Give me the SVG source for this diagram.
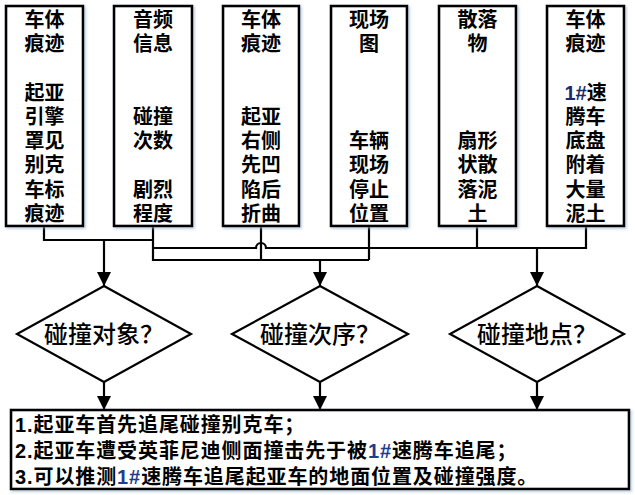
<svg xmlns="http://www.w3.org/2000/svg" width="635" height="495" viewBox="0 0 635 495" lang="zh-CN">
<defs>
<style>
.box{fill:#fff;stroke:#000;stroke-width:2.6;filter:url(#sh)}
.dia{fill:#fff;stroke:#000;stroke-width:2.2}
.ln{fill:none;stroke:#000;stroke-width:2.2}
.bt{font-family:"Liberation Sans","Noto Sans CJK SC",sans-serif;font-weight:bold;font-size:20px;fill:#000;text-anchor:middle}
.dt{font-family:"Liberation Sans","Noto Sans CJK SC",sans-serif;font-weight:500;font-size:24px;fill:#000;text-anchor:middle}
.rt{font-family:"Liberation Sans","Noto Sans CJK SC",sans-serif;font-weight:bold;font-size:20px;fill:#000;letter-spacing:0.9px}
.num{fill:#1f3c8f}
</style>
<filter id="sh" x="-10%" y="-10%" width="130%" height="130%">
<feDropShadow dx="1.5" dy="1.5" stdDeviation="1.2" flood-color="#8fa8c8" flood-opacity="0.6"/>
</filter>
<marker id="ah" markerUnits="userSpaceOnUse" markerWidth="16" markerHeight="14" refX="14" refY="7" orient="auto">
<path d="M0,0 L14,7 L0,14 Z" fill="#000"/>
</marker>
</defs>

<g id="connectors">
<path class="ln" d="M44,226 V240 H153"/>
<path class="ln" d="M153,226 V260 H369"/>
<path class="ln" d="M104,240 V286" marker-end="url(#ah)"/>
<path class="ln" d="M153,248 H256 A5,5 0 0 1 266,248 H586 V226"/>
<path class="ln" d="M261,226 V260"/>
<path class="ln" d="M369,226 V260"/>
<path class="ln" d="M477,226 V248"/>
<path class="ln" d="M320,260 V286" marker-end="url(#ah)"/>
<path class="ln" d="M537,248 V286" marker-end="url(#ah)"/>
<path class="ln" d="M104,382 V410" marker-end="url(#ah)"/>
<path class="ln" d="M320,382 V410" marker-end="url(#ah)"/>
<path class="ln" d="M537,382 V410" marker-end="url(#ah)"/>
</g>

<g id="n1">
<rect class="box" x="6" y="6" width="77" height="220"/>
<text class="bt"><tspan x="44.5" y="26.5">车体</tspan><tspan x="44.5" y="50.5">痕迹</tspan><tspan x="44.5" y="99.5">起亚</tspan><tspan x="44.5" y="123.5">引擎</tspan><tspan x="44.5" y="147.5">罩见</tspan><tspan x="44.5" y="172">别克</tspan><tspan x="44.5" y="196.5">车标</tspan><tspan x="44.5" y="220.5">痕迹</tspan></text>
</g>

<g id="n2">
<rect class="box" x="114" y="6" width="78" height="220"/>
<text class="bt"><tspan x="153" y="26.5">音频</tspan><tspan x="153" y="50.5">信息</tspan><tspan x="153" y="123.5">碰撞</tspan><tspan x="153" y="147.5">次数</tspan><tspan x="153" y="196.5">剧烈</tspan><tspan x="153" y="220.5">程度</tspan></text>
</g>

<g id="n3">
<rect class="box" x="223" y="6" width="76" height="220"/>
<text class="bt"><tspan x="261" y="26.5">车体</tspan><tspan x="261" y="50.5">痕迹</tspan><tspan x="261" y="123.5">起亚</tspan><tspan x="261" y="147.5">右侧</tspan><tspan x="261" y="172">先凹</tspan><tspan x="261" y="196.5">陷后</tspan><tspan x="261" y="220.5">折曲</tspan></text>
</g>

<g id="n4">
<rect class="box" x="331" y="6" width="76" height="220"/>
<text class="bt"><tspan x="369" y="26.5">现场</tspan><tspan x="369" y="50.5">图</tspan><tspan x="369" y="147.5">车辆</tspan><tspan x="369" y="172">现场</tspan><tspan x="369" y="196.5">停止</tspan><tspan x="369" y="220.5">位置</tspan></text>
</g>

<g id="n5">
<rect class="box" x="439" y="6" width="77" height="220"/>
<text class="bt"><tspan x="477.5" y="26.5">散落</tspan><tspan x="477.5" y="50.5">物</tspan><tspan x="477.5" y="147.5">扇形</tspan><tspan x="477.5" y="172">状散</tspan><tspan x="477.5" y="196.5">落泥</tspan><tspan x="477.5" y="220.5">土</tspan></text>
</g>

<g id="n6">
<rect class="box" x="547" y="6" width="77" height="220"/>
<text class="bt"><tspan x="585.5" y="26.5">车体</tspan><tspan x="585.5" y="50.5">痕迹</tspan><tspan x="585.5" y="99.5"><tspan fill="#1a2a6a">1#</tspan>速</tspan><tspan x="585.5" y="123.5">腾车</tspan><tspan x="585.5" y="147.5">底盘</tspan><tspan x="585.5" y="172">附着</tspan><tspan x="585.5" y="196.5">大量</tspan><tspan x="585.5" y="220.5">泥土</tspan></text>
</g>

<g id="d1">
<polygon class="dia" points="104,286 191,334 104,382 17,334"/>
<text class="dt" x="104" y="343">碰撞对象？</text>
</g>
<g id="d2">
<polygon class="dia" points="320,286 408,334 320,382 232,334"/>
<text class="dt" x="320" y="343">碰撞次序？</text>
</g>
<g id="d3">
<polygon class="dia" points="537,286 624,334 537,382 450,334"/>
<text class="dt" x="537" y="343">碰撞地点？</text>
</g>

<g id="result">
<rect class="box" x="11" y="410" width="618" height="79"/>
<text class="rt"><tspan x="15" y="432">1.起亚车首先追尾碰撞别克车；</tspan><tspan x="15" y="458">2.起亚车遭受英菲尼迪侧面撞击先于被<tspan class="num">1#</tspan>速腾车追尾；</tspan><tspan x="15" y="484">3.可以推测<tspan class="num">1#</tspan>速腾车追尾起亚车的地面位置及碰撞强度。</tspan></text>
</g>
</svg>
